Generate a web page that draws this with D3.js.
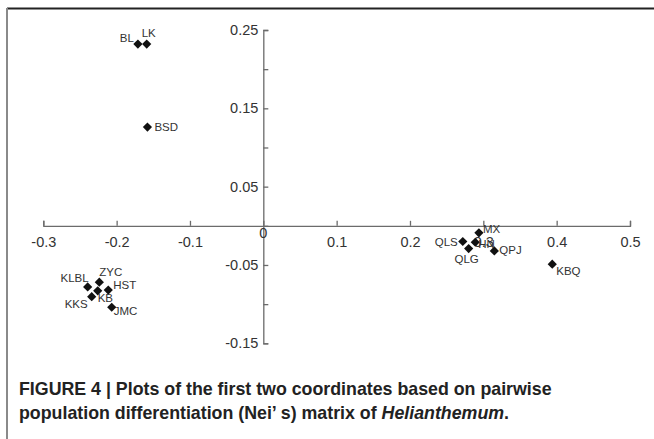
<!DOCTYPE html>
<html>
<head>
<meta charset="utf-8">
<script src="https://cdn.jsdelivr.net/npm/d3@7"></script>
<style>
  html, body { margin: 0; padding: 0; background: #fff; }
  svg { display: block; }
</style>
</head>
<body>
<svg id="chart" width="654" height="439"></svg>
<script>
// ---- data ----
const populations = ["BL", "LK", "BSD", "MX", "QLS", "HN", "QLG", "QPJ", "KBQ", "KLBL", "ZYC", "HST", "KB", "KKS", "JMC"];
const coord1 = [-0.171, -0.159, -0.158, 0.294, 0.272, 0.289, 0.280, 0.315, 0.394, -0.2395, -0.2236, -0.2114, -0.2258, -0.234, -0.2067];
const coord2 = [0.232, 0.232, 0.126, -0.009, -0.020, -0.021, -0.029, -0.032, -0.049, -0.078, -0.072, -0.082, -0.083, -0.0905, -0.104];

const xTicks = [-0.3, -0.2, -0.1, 0, 0.1, 0.2, 0.3, 0.4, 0.5];
const xTickLabels = ["-0.3", "-0.2", "-0.1", "", "0.1", "0.2", "0.3", "0.4", "0.5"];
const yTicks = [-0.15, -0.1, -0.05, 0, 0.05, 0.1, 0.15, 0.2, 0.25];
const yTickLabels = ["-0.15", "", "-0.05", "", "0.05", "", "0.15", "", "0.25"];

const captionLine1 = "FIGURE 4 | Plots of the first two coordinates based on pairwise";
const captionLine2a = "population differentiation (Nei\u2019 s) matrix of ";
const captionItalic = "Helianthemum";
const captionLine2b = ".";

// ---- label placement (layout, not data) ----
const labelPlacement = {
  BL:   {anchor: "end",    dx: -4, dy: -6},
  LK:   {anchor: "start",  dx: -5, dy: -11},
  BSD:  {anchor: "start",  dx: 7,  dy: 0},
  MX:   {anchor: "start",  dx: 4,  dy: -4},
  QLS:  {anchor: "end",    dx: -5, dy: 0},
  HN:   {anchor: "start",  dx: 3,  dy: 1.5},
  QLG:  {anchor: "middle", dx: -2, dy: 10},
  QPJ:  {anchor: "start",  dx: 5,  dy: -1},
  KBQ:  {anchor: "start",  dx: 4,  dy: 7},
  KLBL: {anchor: "end",    dx: 1,  dy: -9},
  ZYC:  {anchor: "start",  dx: 0,  dy: -10},
  HST:  {anchor: "start",  dx: 5,  dy: -5},
  KB:   {anchor: "start",  dx: 0,  dy: 7},
  KKS:  {anchor: "end",    dx: -4, dy: 7},
  JMC:  {anchor: "start",  dx: 2,  dy: 4}
};

const points = populations.map((name, i) => ({name, x: coord1[i], y: coord2[i]}));

const svg = d3.select("#chart");
const font = "'Liberation Sans', Arial, Helvetica, sans-serif";

// frame lines
svg.append("line").attr("x1", 7).attr("x2", 654).attr("y1", 8.5).attr("y2", 8.5)
  .attr("stroke", "#222").attr("stroke-width", 2);
svg.append("line").attr("x1", 7).attr("x2", 7).attr("y1", 8).attr("y2", 439)
  .attr("stroke", "#8a8a8a").attr("stroke-width", 2);

// scales
const x = d3.scaleLinear().domain([-0.3, 0.5]).range([43.3, 630]);
const y = d3.scaleLinear().domain([-0.15, 0.25]).range([343.3, 30]);

const axisColor = "#6b6b6b";
const textColor = "#333";

// x axis (ticks point up, labels below)
const xAxis = d3.axisBottom(x)
  .tickValues(xTicks)
  .tickFormat((d, i) => xTickLabels[i])
  .tickSizeInner(-5).tickSizeOuter(-5).tickPadding(11);
const gx = svg.append("g").attr("transform", `translate(0,${y(0)})`).call(xAxis);

// y axis (ticks point right, labels left)
const yAxis = d3.axisLeft(y)
  .tickValues(yTicks)
  .tickFormat((d, i) => yTickLabels[i])
  .tickSizeInner(-5).tickSizeOuter(-5).tickPadding(5);
const gy = svg.append("g").attr("transform", `translate(${x(0)},0)`).call(yAxis);

[gx, gy].forEach(g => {
  g.select(".domain").attr("stroke", axisColor).attr("stroke-width", 1.3);
  g.selectAll(".tick line").attr("stroke", axisColor).attr("stroke-width", 1.3);
  g.selectAll(".tick text").attr("fill", textColor)
    .style("font-family", font).style("font-size", "14.5px");
});

// origin "0" label
svg.append("text").attr("x", x(0)).attr("y", y(0) + 12)
  .attr("text-anchor", "middle").attr("fill", textColor)
  .style("font-family", font).style("font-size", "14.5px").text("0");

// points
const r = 4.6;
const gp = svg.append("g");
gp.selectAll("path.pt").data(points).join("path")
  .attr("class", "pt")
  .attr("d", `M0,${-r}L${r},0L0,${r}L${-r},0Z`)
  .attr("transform", d => `translate(${x(d.x)},${y(d.y)})`)
  .attr("fill", "#111");

gp.selectAll("text.lab").data(points).join("text")
  .attr("class", "lab")
  .attr("x", d => x(d.x) + labelPlacement[d.name].dx)
  .attr("y", d => y(d.y) + labelPlacement[d.name].dy)
  .attr("dy", "0.35em")
  .attr("text-anchor", d => labelPlacement[d.name].anchor)
  .attr("fill", textColor)
  .style("font-family", font).style("font-size", "11.5px")
  .text(d => d.name);

// caption
const cap = svg.append("g").attr("fill", "#222")
  .style("font-family", font).style("font-size", "17.8px").style("font-weight", "bold");
cap.append("text").attr("x", 19).attr("y", 395).text(captionLine1);
const t2 = cap.append("text").attr("x", 19).attr("y", 419);
t2.append("tspan").text(captionLine2a);
t2.append("tspan").style("font-style", "italic").text(captionItalic);
t2.append("tspan").text(captionLine2b);
</script>
</body>
</html>
